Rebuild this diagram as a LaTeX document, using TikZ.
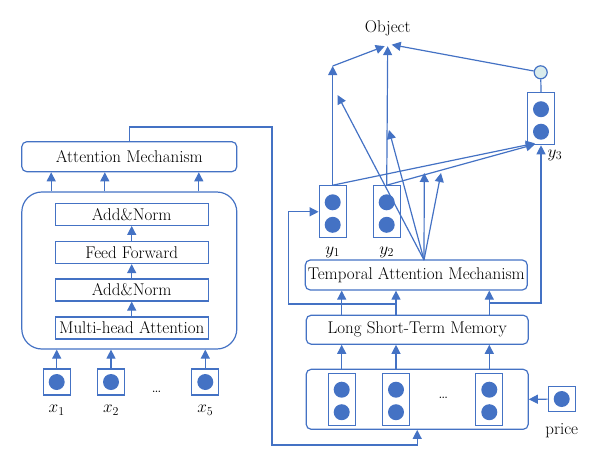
\documentclass[tikz,border=0pt]{standalone}
\usepackage{fontspec}
\usepackage{xcolor}
\usepackage{amsmath}
\usepackage{tikz}
\usetikzlibrary{arrows.meta}
\definecolor{blu}{RGB}{68,114,196}
\definecolor{pale}{RGB}{218,236,236}
\tikzset{
  base/.style = {draw=blu, line width=1.2pt, align=center, inner sep=0pt, font=\fontsize{17}{20}\selectfont},
  rb/.style = {base, rounded corners=5pt, minimum width=215pt, minimum height=30pt},
  lay/.style = {base, minimum width=153pt, minimum height=22pt},
  one/.style = {base, minimum width=27pt, minimum height=26pt},
  two/.style = {base, minimum width=27pt, minimum height=52pt},
  bead/.style = {circle, fill=blu, inner sep=0pt, minimum size=16pt},
  gate/.style = {circle, draw=blu, fill=pale, line width=1.2pt, inner sep=0pt, minimum size=13pt},
  lab/.style = {inner sep=0pt, font=\fontsize{17}{20}\selectfont},
  ar/.style = {draw=blu, line width=1.2pt, -{Triangle[length=9pt,width=9pt]}},
  ln/.style = {draw=blu, line width=1.2pt}
}

\begin{document}
\begin{tikzpicture}[x=1pt, y=-1pt]
\useasboundingbox (0,0) rectangle (600,467);
% encoder side
\node [rb] (attn) at (129.3,156.7) {Attention Mechanism};
\node [base, rounded corners=20pt, minimum width=215pt, minimum height=157pt] (enc) at (129.3,270.5) {};
\node [lay] (an2) at (131.7,214.3) {Add\&Norm};
\node [lay] (ff) at (131.7,252.5) {Feed Forward};
\node [lay] (an1) at (131.7,290) {Add\&Norm};
\node [lay] (mha) at (131.7,328) {Multi-head Attention};
\draw [ar] (mha) -- (an1);
\draw [ar] (an1) -- (ff);
\draw [ar] (ff) -- (an2);
\foreach \n/\x/\t in {x1/56.7/1, x2/111/2, x5/205.3/5} {
  \node [one] (\n) at (\x,382) {};
  \node [bead] at (\n) {};
  \node [lab] at (\x,410) {$x_{\t}$};
  \draw [ar] (\n) -- (\n |- enc.south);
}
\node [lab] (xd) at (156.7,392) {\ldots};
\foreach \s in {30,83.6,177.6}
  \draw [ar] ([xshift=\s pt]enc.north west) -- ([xshift=\s pt]attn.south west);

% lstm side
\node [base, rounded corners=5pt, minimum width=222pt, minimum height=60pt] (inp) at (417.2,399.3) {};
\foreach \n/\x in {v1/341.7, v2/396, v3/489.3} {
  \node [two] (\n) at (\x,399.2) {};
  \node [bead] at ([yshift=9.5pt]\n.center) {};
  \node [bead] at ([yshift=-13pt]\n.center) {};
}
\node [lab] (vd) at (443.3,398) {\ldots};
\node [one, minimum height=25pt] (price) at (561.7,399) {};
\node [bead] at (price) {};
\node [lab] at (561.7,431) {price};
\draw [ar] (price) -- (inp.east);

\node [rb, minimum width=222pt, minimum height=29pt] (lstm) at (417.2,329.7) {Long Short-Term Memory};
\node [rb, minimum width=222pt] (tam) at (416.3,275) {Temporal Attention Mechanism};
\foreach \n in {v1,v2,v3} {
  \draw [ar] (\n |- inp.north) -- (\n |- lstm.south);
  \draw [ar] (\n |- lstm.north) -- (\n |- tam.south);
}

\foreach \n/\x/\y in {y1/332.7/211.8, y2/386.7/211.8, y3/541/118.7} {
  \node [two] (\n) at (\x,\y) {};
  \node [bead] at ([yshift=9.5pt]\n.center) {};
  \node [bead] at ([yshift=-13pt]\n.center) {};
}
\node [lab] at (332.7,252) {$y_1$};
\node [lab] at (386.7,252) {$y_2$};
\node [lab] at (555,155) {$y_3$};
\node [gate] (g) at (540.7,72.3) {};
\node [lab] (obj) at (387.7,28.3) {Object};

% feedback loops
\coordinate (fbl) at (288.3,304);
\coordinate (fbr) at (541,303);
\draw [ar] (v2 |- fbl) -- (fbl) |- (y1.west);
\draw [ar] (v3 |- fbr) -- (fbr) -- (y3.south);

% link from encoder
\coordinate (lk1) at (272,127);
\coordinate (lk2) at (272,445);
\draw [ar] (attn.north) |- (lk1) -- (lk2) -| (inp.south);

% attention fan
\coordinate (fan) at (424,260);
\coordinate (a1) at (337.5,95);
\coordinate (a2) at (389,130);
\coordinate (a3) at (424.3,173);
\coordinate (a4) at (441,173);
\foreach \a in {a1,a2,a3,a4}
  \draw [ar] (fan) -- (\a);

% outputs
\draw [ar] (y1.north) -- ([xshift=8pt,yshift=2pt]y3.south west);
\draw [ar] (y2.north) -- ([xshift=8pt,yshift=1pt]y3.south west);
\coordinate (k1) at (332.7,66);
\draw [ar] (y1.north) -- (k1);
\draw [ar] (k1) -- ([xshift=-3pt,yshift=-10pt]obj.south);
\draw [ar] (y2.north) -- ([yshift=-10pt]obj.south);
\draw [ln] (y3.north) -- (g);
\draw [ar] (g) -- ([xshift=4pt,yshift=-8.5pt]obj.south);
\end{tikzpicture}
\end{document}
